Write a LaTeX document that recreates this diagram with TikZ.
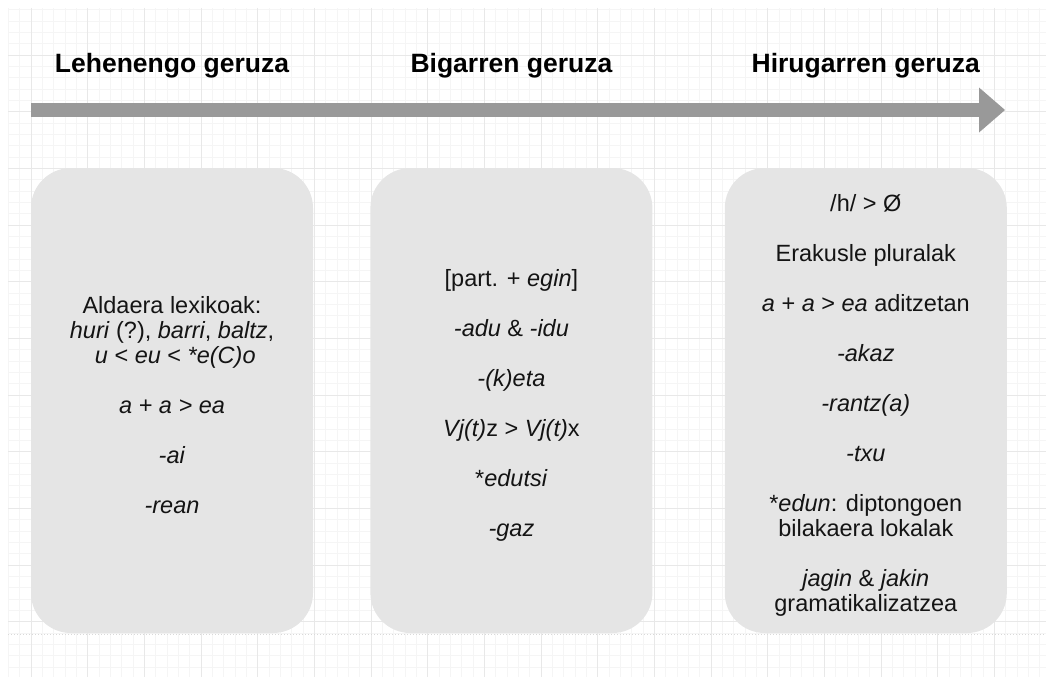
\documentclass[tikz,border=0pt]{standalone}
\usepackage{fontspec}
\setmainfont{Liberation Sans}
\usetikzlibrary{arrows.meta,positioning}

\begin{document}
\begin{tikzpicture}[x=1pt, y=-1pt,
    layerbox/.style={fill=black!10, rounded corners=40pt, minimum width=282pt, minimum height=465pt, inner sep=0pt},
    layertext/.style={align=center, text=black!92, font=\fontsize{23.5}{25}\selectfont},
    layertitle/.style={anchor=base, font=\fontsize{26.5}{30}\selectfont\bfseries},
    timeline/.style={-{Triangle[length=26pt, width=45pt, line width=0pt]}, line width=14pt, draw=black!40},
    minorline/.style={draw=black!4, line width=0.6pt},
    majorline/.style={draw=black!9, line width=0.8pt},
    dotline/.style={draw=black!15, dotted, line width=1pt}
  ]
  \useasboundingbox (0,0) rectangle (1046,677);

  % background grid
  \foreach \i in {0,...,91} \draw[minorline] ({8.33+11.333*\i},8) -- ({8.33+11.333*\i},677);
  \foreach \i in {0,...,59} \draw[minorline] (8,{9.67+11.333*\i}) -- (1046,{9.67+11.333*\i});
  \foreach \i in {0,...,17} \draw[majorline] ({31+56.667*\i},8) -- ({31+56.667*\i},677);
  \foreach \i in {0,...,10} \draw[majorline] (8,{55+56.667*\i}) -- (1046,{55+56.667*\i});
  \coordinate (guideL) at (8,634);
  \coordinate (guideR) at (1046,634);
  \draw[dotline] (guideL) -- (guideR);

  % timeline
  \coordinate (arrowstart) at (31,110);
  \coordinate (arrowend) at (1005,110);
  \draw[timeline] (arrowstart) -- (arrowend);

  % layers
  \node[layerbox] (box1) at (172,400.5) {};
  \node[layerbox, right=57pt of box1] (box2) {};
  \node[layerbox, right=72pt of box2] (box3) {};

  \coordinate (titleline) at (0,72);
  \node[layertitle] (title1) at (box1 |- titleline) {Lehenengo geruza};
  \node[layertitle] (title2) at (box2 |- titleline) {Bigarren geruza};
  \node[layertitle] (title3) at (box3 |- titleline) {Hirugarren geruza};

  \node[layertext] (items1) at ([yshift=-5pt]box1.center) {Aldaera lexikoak:\\
    \textit{huri} (?), \textit{barri}, \textit{baltz},\\
    \ \textit{u} < \textit{eu} < \textit{*e(C)o}\\[25pt]
    \textit{a + a > ea}\\[25pt]
    \textit{-ai}\\[25pt]
    \textit{-rean}};
  \node[layertext] (items2) at ([yshift=-5pt]box2.center) {[part. + \textit{egin}]\\[25pt]
    \textit{-adu} \& \textit{-idu}\\[25pt]
    \textit{-(k)eta}\\[25pt]
    \textit{Vj(t)}z > \textit{Vj(t)}x\\[25pt]
    *\textit{edutsi}\\[25pt]
    \textit{-gaz}};
  \node[layertext] (items3) at ([yshift=-5pt]box3.center) {/h/ > Ø\\[25pt]
    Erakusle pluralak\\[25pt]
    \textit{a} + \textit{a} > \textit{ea} aditzetan\\[25pt]
    \textit{-akaz}\\[25pt]
    \textit{-rantz(a)}\\[25pt]
    \textit{-txu}\\[25pt]
    *\textit{edun}: diptongoen\\
    bilakaera lokalak\\[25pt]
    \textit{jagin} \& \textit{jakin}\\
    gramatikalizatzea};
\end{tikzpicture}
\end{document}
